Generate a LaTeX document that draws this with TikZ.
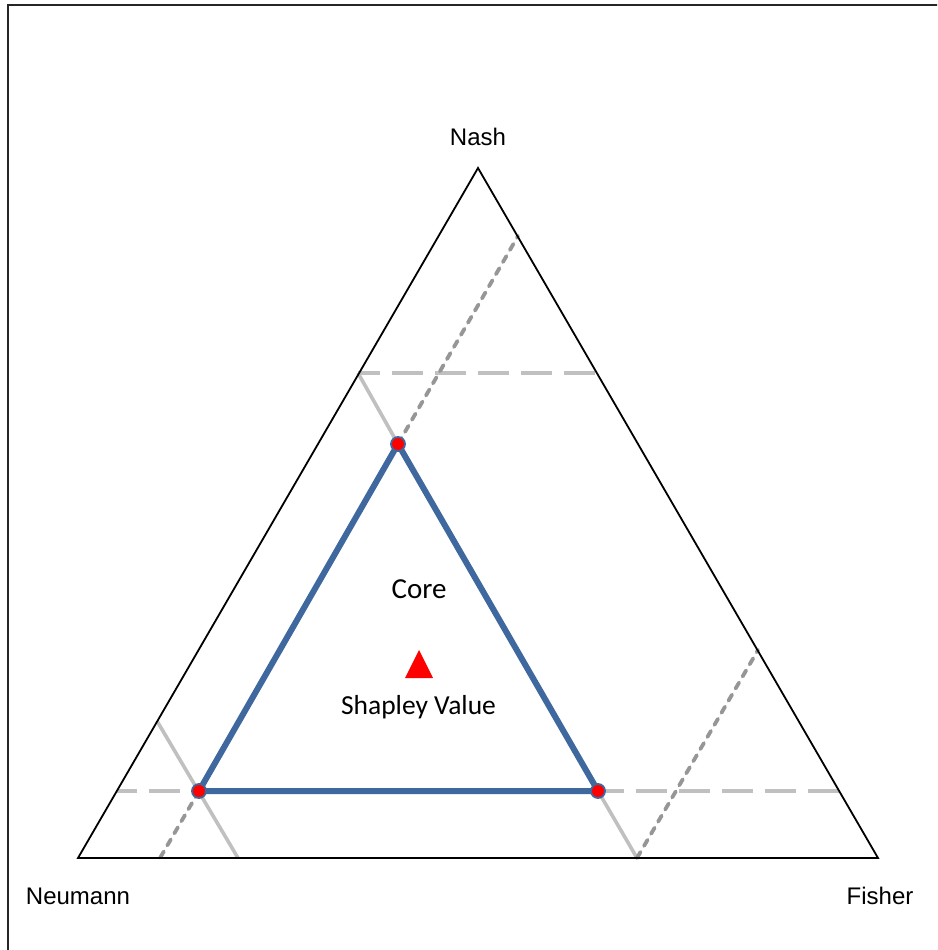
\documentclass[tikz,border=0pt]{standalone}
\usepackage{fontspec}
\setmainfont{Liberation Sans}
\newfontfamily\calib{Carlito}
\definecolor{coreblue}{RGB}{62,104,158}
\definecolor{lgray}{RGB}{192,192,192}
\definecolor{dgray}{RGB}{150,150,150}
\begin{document}
\begin{tikzpicture}[x=1pt,y=-1pt,
  outer/.style={black,line width=1.8pt,line join=miter},
  longdash/.style={lgray,line width=3.6pt,dash pattern=on 31pt off 12pt},
  solidgray/.style={lgray,line width=3.6pt},
  shortdash/.style={dgray,line width=3.8pt,line cap=round,dash pattern=on 7pt off 7pt},
  corestyle/.style={coreblue,line width=6pt,line join=round},
  vertexdot/.style={circle,fill=red,draw=coreblue,line width=1.8pt,minimum size=14pt,inner sep=0pt},
  arial/.style={font=\fontsize{24}{28}\selectfont,inner sep=0pt,anchor=base},
  calibl/.style={font=\calib\fontsize{29}{33}\selectfont,inner sep=0pt,anchor=base}
]
\useasboundingbox (0,0) rectangle (937,950);
\begin{scope}
\clip (0,0) rectangle (937,950);
\draw[black!85,line width=2.5pt] (8,5) rectangle (960,980);
\end{scope}
% outer triangle vertices
\coordinate (N) at (478,168);
\coordinate (L) at (78,858);
\coordinate (R) at (878,858);
% core vertices
\coordinate (ct) at (398,444);
\coordinate (cl) at (199,791);
\coordinate (cr) at (598,791);
% constraint line ends
\coordinate (a1) at (358,373);
\coordinate (a2) at (597,373);
\coordinate (b1) at (117,791);
\coordinate (b2) at (839,791);
\coordinate (c1) at (518,236);
\coordinate (d1) at (157,721);
\coordinate (d2) at (238,858);
\coordinate (d3) at (160,858);
\coordinate (e1) at (637,858);
\coordinate (e2) at (758,650);
% light gray solid lines
\draw[solidgray] (a1) -- (ct);
\draw[solidgray] (d1) -- (d2);
\draw[solidgray] (cr) -- (e1);
% light gray long dashes
\draw[longdash,dash phase=9pt] (a1) -- (a2);
\draw[longdash,dash phase=24pt] (cl) -- (b1);
\draw[longdash] (b2) -- (cr);
% dark gray short dashes
\draw[shortdash] (ct) -- (c1);
\draw[shortdash] (cl) -- (d3);
\draw[shortdash] (e1) -- (e2);
% outer triangle
\draw[outer] (N) -- (R) -- (L) -- cycle;
% core
\draw[corestyle] (ct) -- (cr) -- (cl) -- cycle;
\node[vertexdot] (vt) at (ct) {};
\node[vertexdot] (vl) at (cl) {};
\node[vertexdot] (vr) at (cr) {};
% shapley value
\fill[red] (405,678) -- (433,678) -- (419,650) -- cycle;
% labels
\node[arial] (nash) at (478,145) {Nash};
\node[arial] (neumann) at (78,904) {Neumann};
\node[arial] (fisher) at (880,904) {Fisher};
\node[calibl] (core) at (419,598) {Core};
\node[calibl,font=\calib\fontsize{27.5}{31}\selectfont] (shap) at (418.5,714) {Shapley Value};
\end{tikzpicture}
\end{document}
